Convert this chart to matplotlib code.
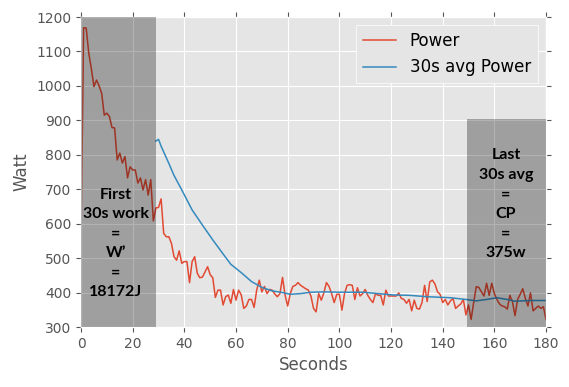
import numpy as np
import matplotlib
matplotlib.use("Agg")
import matplotlib.pyplot as plt

plt.style.use("ggplot")
plt.rcParams["font.family"] = ["DejaVu Sans"]

# power per second (t = 0..180)
power = [
    550, 1169, 1168, 1095, 1050, 998, 1017, 1000, 978, 915,
    921, 911, 879, 878, 785, 805, 776, 795, 733, 765,
    756, 756, 718, 733, 698, 728, 683, 728, 608, 646,
    647, 672, 572, 562, 562, 543, 504, 494, 521, 485,
    490, 490, 429, 490, 504, 456, 443, 445, 460, 475,
    452, 443, 386, 407, 407, 364, 388, 393, 369, 409,
    378, 407, 394, 354, 361, 380, 380, 357, 407, 436,
    402, 418, 397, 409, 407, 396, 388, 397, 444, 392,
    361, 397, 418, 421, 429, 421, 416, 411, 407, 390,
    354, 344, 397, 378, 399, 429, 418, 397, 371, 395,
    395, 349, 397, 421, 423, 421, 380, 414, 390, 397,
    409, 392, 380, 371, 397, 392, 392, 364, 407, 390,
    390, 390, 390, 399, 383, 380, 369, 380, 347, 378,
    354, 352, 371, 421, 374, 431, 436, 425, 402, 395,
    371, 380, 364, 376, 383, 354, 361, 367, 380, 335,
    364, 322, 371, 417, 415, 402, 390, 427, 392, 427,
    397, 380, 367, 361, 359, 352, 392, 374, 333, 380,
    395, 411, 383, 361, 399, 347, 354, 361, 354, 359,
    322,
]
seconds = np.arange(len(power))

# 30s average power
avg_t = [29, 30, 31, 34, 36, 39, 43, 47, 51, 55, 58, 60, 62, 66, 70, 74, 78,
         81, 85, 89, 94, 100, 109, 115, 121, 127, 134, 143, 149, 153, 157,
         161, 165, 168, 174, 180]
avg_w = [840, 845, 825, 775, 740, 698, 640, 596, 553, 512, 482, 470, 458, 432,
         415, 405, 400, 395, 397, 401, 402, 401, 401, 397, 393, 392, 388, 385,
         380, 376, 380, 385, 380, 375, 377, 377]

first_span = (0, 29)
last_span = (149.5, 180, 905)
first_text = "First\n30s work\n=\nW\u2019\n=\n18172J"
last_text = "Last\n30s avg\n=\nCP\n=\n375w"

fig = plt.figure(figsize=(5.69, 3.87), dpi=100)
ax = fig.add_axes([0.1424, 0.155, 0.8172, 0.801])

ax.plot(seconds, power, color="#E24A33", lw=1.1, label="Power")
ax.plot(avg_t, avg_w, color="#348ABD", lw=1.1, label="30s avg Power")

# shaded windows drawn on top of the lines
ax.bar(first_span[0], 1200 - 300, width=first_span[1] - first_span[0],
       bottom=300, align="edge", color="black", alpha=0.3, zorder=5, lw=0)
ax.bar(last_span[0], last_span[2] - 300, width=last_span[1] - last_span[0],
       bottom=300, align="edge", color="black", alpha=0.3, zorder=5, lw=0)

ax.text(13.5, 542, first_text, ha="center", va="center", family="Lato",
        weight="bold", fontsize=11.5, linespacing=1.5, zorder=6)
ax.text(164.5, 657, last_text, ha="center", va="center", family="Lato",
        weight="bold", fontsize=11.5, linespacing=1.5, zorder=6)

ax.set_xlim(0, 180)
ax.set_ylim(300, 1200)
ax.set_xticks(np.arange(0, 181, 20))
ax.set_yticks(np.arange(300, 1201, 100))
ax.tick_params(direction="out", top=True, right=True, colors="#555555",
               labelsize=10)
ax.set_xlabel("Seconds", fontsize=12, color="#555555")
ax.set_ylabel("Watt", fontsize=12, color="#555555")

leg = ax.legend(loc="upper right", fontsize=12, facecolor="#E5E5E5",
                edgecolor="white", framealpha=1, fancybox=False)
for t in leg.get_texts():
    t.set_color("black")

fig.savefig("out.png", dpi=100)
